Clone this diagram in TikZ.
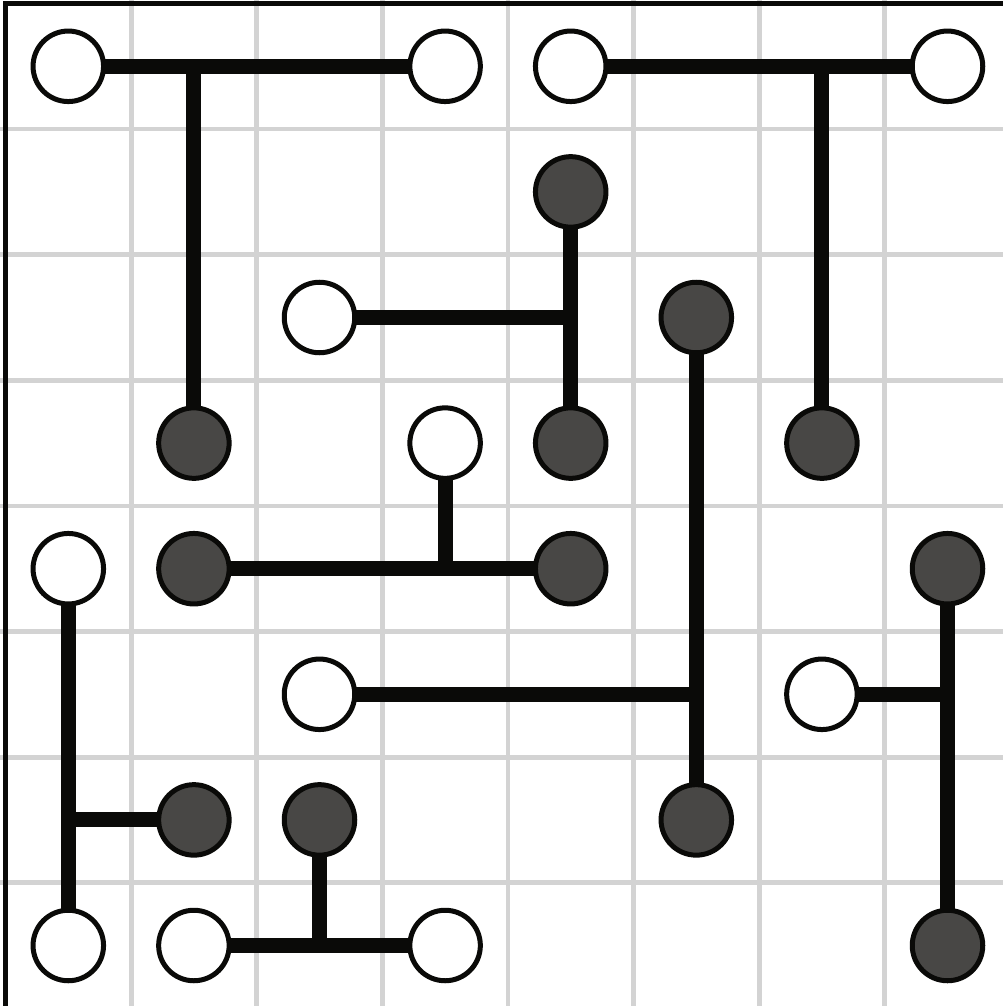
\documentclass[tikz,border=0pt]{standalone}
\definecolor{gridgray}{HTML}{D3D3D3}
\definecolor{darkfill}{HTML}{484745}
\definecolor{ink}{HTML}{0A0A08}
\begin{document}
\begin{tikzpicture}[x=1pt,y=-1pt,
  wnode/.style={circle,draw=ink,line width=5pt,fill=white,inner sep=0pt,minimum size=70.5pt},
  dnode/.style={circle,draw=ink,line width=5pt,fill=darkfill,inner sep=0pt,minimum size=70.5pt},
  wire/.style={draw=ink,line width=15pt},
  gridline/.style={draw=gridgray,line width=4.8pt}]
\useasboundingbox (0,0) rectangle (1003,1006);
\clip (0,0) rectangle (1003,1006);
\fill[white] (0,0) rectangle (1003,1006);
% grid
\foreach \i in {1,...,7} {
  \draw[gridline] ({5.5+125.6*\i},0) -- ({5.5+125.6*\i},1006);
  \draw[gridline] (0,{3.5+125.6*\i}) -- (1003,{3.5+125.6*\i});
}
% frame
\draw[ink,line width=4.5pt] (5.5,3.5) rectangle (1010,1008.5);
% cell centres
\foreach \c/\r in {0/0,3/0,4/0,7/0,4/1,2/2,5/2,1/3,3/3,4/3,6/3,0/4,1/4,4/4,7/4,2/5,6/5,1/6,2/6,5/6,0/7,1/7,3/7,7/7} {
  \coordinate (p\c\r) at ({68.3+125.6*\c},{66.3+125.6*\r});
}
% junctions
\coordinate (j1) at ({68.3+125.6*1},{66.3+125.6*0});
\coordinate (j2) at ({68.3+125.6*6},{66.3+125.6*0});
\coordinate (j3) at ({68.3+125.6*4},{66.3+125.6*2});
\coordinate (j4) at ({68.3+125.6*5},{66.3+125.6*5});
\coordinate (j5) at ({68.3+125.6*3},{66.3+125.6*4});
\coordinate (j6) at ({68.3+125.6*0},{66.3+125.6*6});
\coordinate (j7) at ({68.3+125.6*7},{66.3+125.6*5});
\coordinate (j8) at ({68.3+125.6*2},{66.3+125.6*7});
% wires
\draw[wire] (p00) -- (p30);
\draw[wire] (j1) -- (p13);
\draw[wire] (p40) -- (p70);
\draw[wire] (j2) -- (p63);
\draw[wire] (p41) -- (p43);
\draw[wire] (j3) -- (p22);
\draw[wire] (p52) -- (p56);
\draw[wire] (j4) -- (p25);
\draw[wire] (p14) -- (p44);
\draw[wire] (j5) -- (p33);
\draw[wire] (p04) -- (p07);
\draw[wire] (j6) -- (p16);
\draw[wire] (p74) -- (p77);
\draw[wire] (j7) -- (p65);
\draw[wire] (p17) -- (p37);
\draw[wire] (j8) -- (p26);
% circles
\foreach \c/\r/\s in {0/0/w,3/0/w,4/0/w,7/0/w,4/1/d,2/2/w,5/2/d,1/3/d,3/3/w,4/3/d,6/3/d,0/4/w,1/4/d,4/4/d,7/4/d,2/5/w,6/5/w,1/6/d,2/6/d,5/6/d,0/7/w,1/7/w,3/7/w,7/7/d} {
  \node[\s node] (n\c\r) at (p\c\r) {};
}
\end{tikzpicture}
\end{document}
